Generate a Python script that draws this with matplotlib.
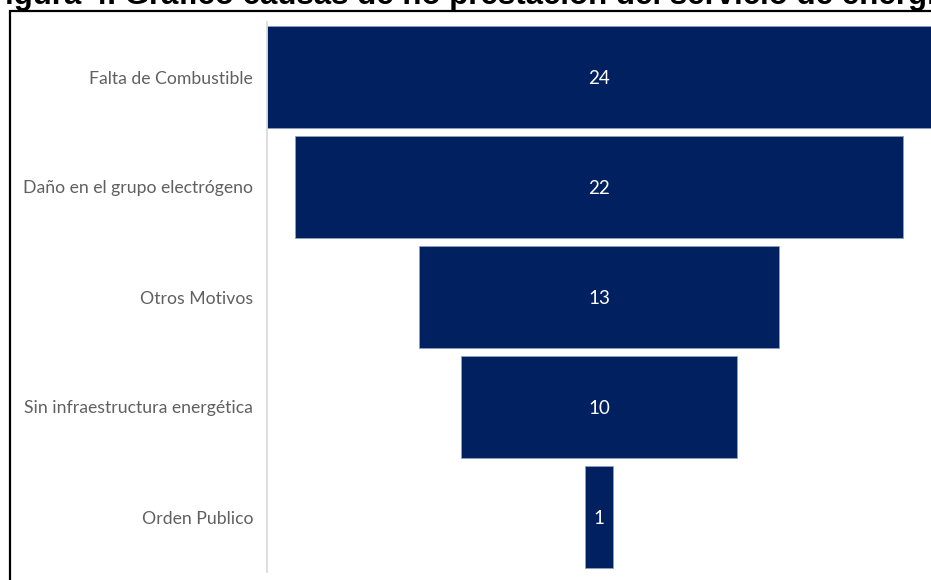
import matplotlib
matplotlib.use("Agg")
import matplotlib.pyplot as plt
from matplotlib.patches import Rectangle

# Data
causas = ["Falta de Combustible", "Daño en el grupo electrógeno", "Otros Motivos",
          "Sin infraestructura energética", "Orden Publico"]
valores = [24, 22, 13, 10, 1]
titulo = "Figura 4. Gráfico causas de no prestación del servicio de energía"

W, H = 931, 580
fig = plt.figure(figsize=(W/100, H/100), dpi=100)

# Axes placed in pixel coords
ax = fig.add_axes([267/W, 1 - 572/H, (931-267)/W, 550/H])
navy = "#002060"
pos = range(len(causas))
ax.barh(pos, valores, left=[-v/2 for v in valores], height=0.93,
        color=navy, edgecolor="#8ea0bd", linewidth=0.6)
for p, v in zip(pos, valores):
    ax.text(0, p, str(v), color="white", ha="center", va="center_baseline",
            fontsize=13.5, family="Lato")

ax.set_xlim(-12, 12)
ax.set_ylim(4.5, -0.5)
ax.set_yticks(list(pos))
ax.set_yticklabels(causas, fontsize=12.7, color="#606060", family="Lato")
ax.tick_params(axis="y", length=0, pad=10)
ax.set_xticks([])
for s in ["top", "right", "bottom"]:
    ax.spines[s].set_visible(False)
ax.spines["left"].set_color("#d9d9d9")
ax.spines["left"].set_linewidth(1.2)

# Frame around the chart (cut by image edges)
fig.patches.append(Rectangle((10/W, -0.1), 1.2, 1.1 - 11/H, transform=fig.transFigure,
                             fill=False, edgecolor="black", linewidth=1.6))

# Title, cut at the top edge
fig.text(-14/W, 1 - 4/H, titulo, fontsize=22.5, fontweight="bold",
         family="Liberation Sans", ha="left", va="baseline")

fig.savefig("out.png", dpi=100)
